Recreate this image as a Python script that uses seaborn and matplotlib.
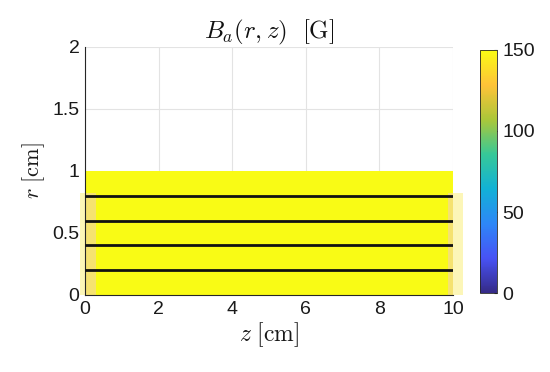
import numpy as np
import pandas as pd
import seaborn as sns
import matplotlib.pyplot as plt
from matplotlib.colors import LinearSegmentedColormap
from matplotlib.patches import Rectangle

# field map B_a(r,z): uniform inside the solenoid region
z_edges = [0, 2, 4, 6, 8, 10]
r_edges = [0, 0.5, 1.0]
B_values = [[150, 150, 150, 150, 150],
            [150, 150, 150, 150, 150]]

# field lines at constant r
line_r = [0.2, 0.4, 0.6, 0.8]
line_z = [0, 10]

# pale end zones of the coil
end_zones_inner = [(0, 0.3), (9.86, 10)]
end_zones_outer = [(-0.14, 0), (10, 10.27)]
end_zone_rmax = 0.82

z_ticks = [0, 2, 4, 6, 8, 10]
r_ticks = [0, 0.5, 1, 1.5, 2]
cbar_ticks = [0, 50, 100, 150]

# matlab parula, roughly
parula = LinearSegmentedColormap.from_list('parula', [
    (0.2081, 0.1663, 0.5292), (0.2810, 0.3228, 0.9579), (0.1786, 0.5289, 0.9682),
    (0.0689, 0.6948, 0.8394), (0.2161, 0.7843, 0.5923), (0.6720, 0.7793, 0.2227),
    (0.9970, 0.7659, 0.2199), (0.9769, 0.9839, 0.0805)])

sns.set_style('whitegrid')
plt.rcParams['font.family'] = ['Liberation Sans', 'DejaVu Sans']
plt.rcParams['mathtext.fontset'] = 'cm'

fig = plt.figure(figsize=(5.5, 3.72), dpi=100)
ax = fig.add_axes([0.1545, 0.207, 0.669, 0.667])
cax = fig.add_axes([0.873, 0.212, 0.031, 0.654])

mesh = ax.pcolormesh(z_edges, r_edges, np.array(B_values), cmap=parula, vmin=0, vmax=150, zorder=1)

for z0, z1 in end_zones_outer:
    ax.add_patch(Rectangle((z0, 0), z1 - z0, end_zone_rmax, color='#fcf6b8', lw=0, clip_on=False, zorder=2))
for z0, z1 in end_zones_inner:
    ax.add_patch(Rectangle((z0, 0), z1 - z0, end_zone_rmax, color='#f4dc88', lw=0, alpha=0.8, zorder=2))

lines = pd.DataFrame([(i, z, r) for i, r in enumerate(line_r) for z in line_z], columns=['line', 'z', 'r'])
sns.lineplot(data=lines, x='z', y='r', units='line', estimator=None, color='#111111', lw=2.0, ax=ax, zorder=3)

ax.set_xlim(0, 10)
ax.set_ylim(0, 2)
ax.set_xticks(z_ticks)
ax.set_yticks(r_ticks)
ax.set_yticklabels(['0', '0.5', '1', '1.5', '2'])
ax.grid(True, color='#e3e3e3', lw=0.8)
ax.set_axisbelow(True)
for s in ['top', 'right']:
    ax.spines[s].set_visible(False)
for s in ['left', 'bottom']:
    ax.spines[s].set_color('#262626')
    ax.spines[s].set_linewidth(0.8)
ax.tick_params(labelsize=14, colors='#1a1a1a', direction='in', length=3, pad=4)
ax.set_xlabel(r'$z\ \mathrm{[cm]}$', fontsize=17, color='#1a1a1a', labelpad=2)
ax.set_ylabel(r'$r\ \mathrm{[cm]}$', fontsize=16, color='#1a1a1a', labelpad=4)
ax.set_title(r'$B_a(r,z)\ \ \mathrm{[G]}$', fontsize=18, color='#111111', pad=6)

cb = fig.colorbar(mesh, cax=cax, ticks=cbar_ticks)
cb.outline.set_edgecolor('#262626')
cb.outline.set_linewidth(0.6)
cax.tick_params(labelsize=14, colors='#1a1a1a', direction='in', length=2)
cax.grid(False)

fig.savefig('out.png', dpi=100)
